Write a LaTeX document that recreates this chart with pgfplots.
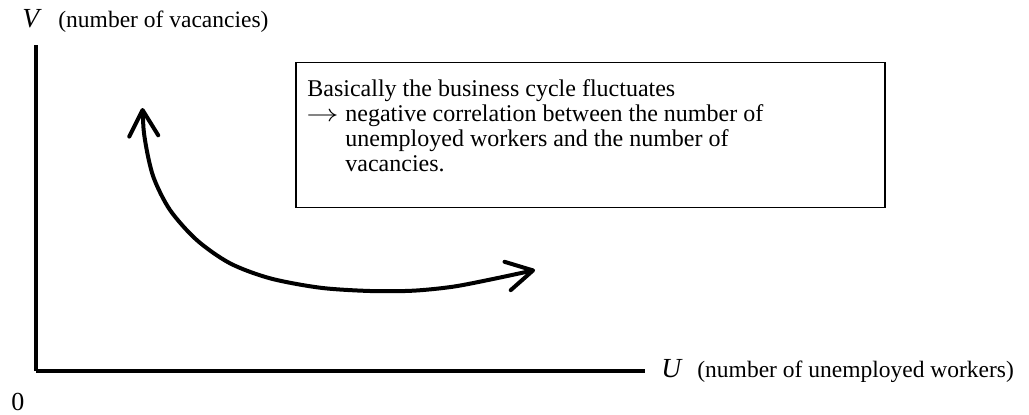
\documentclass[border=0pt]{standalone}
\usepackage{fontspec}
\setmainfont{Liberation Serif}
\usepackage{pgfplots}
\pgfplotsset{compat=1.18}
\usetikzlibrary{arrows.meta}
\begin{document}
\begin{tikzpicture}
    \begin{axis}[
            x=0.5pt, y=0.5pt, % one pixel of the reference = 0.5pt
            xmin=36, xmax=645,
            ymin=43, ymax=369,
            axis lines=left,
            axis line style={-, line width=1.6pt},
            xtick=\empty, ytick=\empty,
            clip=false,
        ]
        % U-V trade-off over the business cycle
        \addplot[black, line width=2pt, smooth, line cap=round,
            arrows={Straight Barb[length=13pt,width=14.5pt,round]-Straight Barb[length=13pt,width=14.5pt,round]}]
        coordinates {
                (142.5,306) (145,274) (153.3,237.3) (170,204) (196.7,174)
                (230,150.7) (270,135.7) (320,126.3) (370,123) (413,123.3)
                (453,127.3) (493,135) (535,144)
            };
        % text box
        \draw[line width=0.8pt] (axis cs:296,206.5) rectangle (axis cs:885,351.7);
        \begin{scope}[every node/.style={anchor=base west, inner sep=0pt,
                        font=\fontsize{12}{13}\selectfont}]
            \node at (axis cs:307,318) {Basically the business cycle fluctuates};
            \node at (axis cs:306,293) {\smash{\scalebox{1.35}[1]{$\rightarrow$}}};
            \node at (axis cs:345,293) {negative correlation between the number of};
            \node at (axis cs:345,267.5) {unemployed workers and the number of};
            \node at (axis cs:345,242.5) {vacancies.};
        \end{scope}
        \begin{scope}[every node/.style={anchor=base west, inner sep=0pt,
                        font=\fontsize{11.75}{12.5}\selectfont}]
            % axis labels
            \node at (axis cs:58,387) {(number of vacancies)};
            \node at (axis cs:697,36.5) {(number of unemployed workers)};
            \node[font=\fontsize{13.8}{15}\selectfont] at (axis cs:22,387) {\textit{V}};
            \node[font=\fontsize{13.8}{15}\selectfont] at (axis cs:661,36.5) {\textit{U}};
            \node[font=\fontsize{13}{14}\selectfont] at (axis cs:11,4) {0};
        \end{scope}
        \coordinate (bl) at (axis cs:0,0);
        \coordinate (tr) at (axis cs:1029,414);
    \end{axis}
    \pgfresetboundingbox
    \useasboundingbox (bl) rectangle (tr);
\end{tikzpicture}
\end{document}
